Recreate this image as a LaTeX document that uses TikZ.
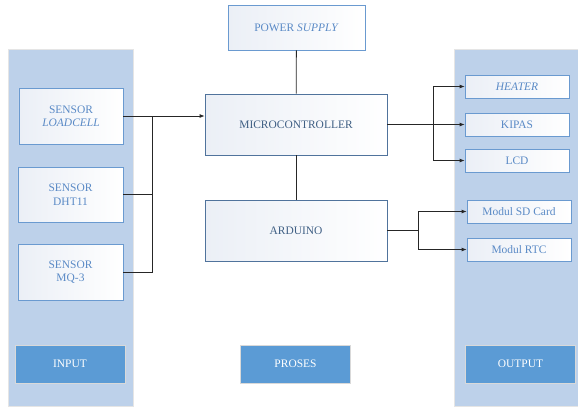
\documentclass[tikz,border=0pt]{standalone}
\usepackage{fontspec}
\setmainfont{Liberation Serif}
\usepackage{tikz}
\usetikzlibrary{arrows}
\usetikzlibrary{arrows.meta, calc}

\definecolor{panelblue}{HTML}{BDD1EA}
\definecolor{lineblue}{HTML}{6A9AD0}
\definecolor{textblue}{HTML}{5A8AC6}
\definecolor{darkline}{HTML}{50739C}
\definecolor{darktext}{HTML}{3F5F84}
\definecolor{boxgray}{HTML}{EBEFF6}
\definecolor{labelblue}{HTML}{5B9BD5}

\tikzset{
	panel/.style={fill=panelblue, draw=gray!20, line width=0.6pt},
	inbox/.style={draw=lineblue, line width=0.8pt, left color=boxgray, right color=white, text=textblue, align=center, font=\fontsize{11.5}{13.5}\selectfont},
	procbox/.style={draw=darkline, line width=0.8pt, left color=boxgray, right color=white, text=darktext, align=center, font=\fontsize{11.5}{13.5}\selectfont},
	labelbox/.style={fill=labelblue, draw=gray!30, line width=0.8pt, text=white, minimum width=110bp, minimum height=38bp, font=\fontsize{11.5}{13.5}\selectfont},
	wire/.style={draw=black!85, line width=0.8pt}
}

\begin{document}
\begin{tikzpicture}[x=1bp, y=-1bp, >={Latex[length=5pt,width=4pt]}]
		\useasboundingbox (0,0) rectangle (578,406);
		
		% Panel
		\node[panel, minimum width=125bp, minimum height=357bp] (inpanel) at (70.5,227.5) {};
		\node[panel, minimum width=124bp, minimum height=357bp] (outpanel) at (516,227.5) {};
		
		% Input
		\node[inbox, minimum width=104bp, minimum height=56bp] (load) at (71,116) {SENSOR\\\textit{LOADCELL}};
		\node[inbox, minimum width=105bp, minimum height=55bp] (dht) at (70.5,194.5) {SENSOR\\DHT11};
		\node[inbox, minimum width=105bp, minimum height=56bp] (mq) at (70.5,272) {SENSOR\\MQ-3};
		
		% Proses
		\node[inbox, minimum width=137bp, minimum height=45bp] (power) at (296.5,27.5) {POWER \textit{SUPPLY}};
		\node[procbox, minimum width=182bp, minimum height=61bp] (micro) at (296,124.5) {MICROCONTROLLER};
		\node[procbox, minimum width=182bp, minimum height=61bp] (ard) at (296,230.5) {ARDUINO};
		
		% Output
		\node[inbox, minimum width=104bp, minimum height=23bp] (heater) at (517,86.5) {\textit{HEATER}};
		\node[inbox, minimum width=104bp, minimum height=23bp] (kipas) at (517,124.5) {KIPAS};
		\node[inbox, minimum width=104bp, minimum height=23bp] (lcd) at (517,160.5) {LCD};
		\node[inbox, minimum width=104bp, minimum height=23bp] (sd) at (519,211.5) {Modul SD Card};
		\node[inbox, minimum width=104bp, minimum height=23bp] (rtc) at (519,249.5) {Modul RTC};
		
		% Beschriftungen
		\node[labelbox] (input) at (70,364) {INPUT};
		\node[labelbox] (proses) at (295.5,364) {PROSES};
		\node[labelbox] (output) at (520.5,364) {OUTPUT};
		
		% Leitungen
		\coordinate (jin) at (152,116);
		\draw[wire] (dht.east) -| (jin);
		\draw[wire] (mq.east) -| (jin);
		\draw[wire, ->] (load.east) -- (load.east -| micro.west);
		
		\draw[wire] (power) -- (micro);
		\draw[wire] (micro) -- (ard);
		
		\coordinate (jout) at (433,124.5);
		\draw[wire] (micro.east) -- (jout);
		\draw[wire, ->] (jout) |- (heater.west);
		\draw[wire, ->] (jout) -- (kipas.west);
		\draw[wire, ->] (jout) |- (lcd.west);
		
		\coordinate (jard) at (418,230.5);
		\draw[wire] (ard.east) -- (jard);
		\draw[wire, ->] (jard) |- (sd.west);
		\draw[wire, ->] (jard) |- (rtc.west);
	\end{tikzpicture}
\end{document}
